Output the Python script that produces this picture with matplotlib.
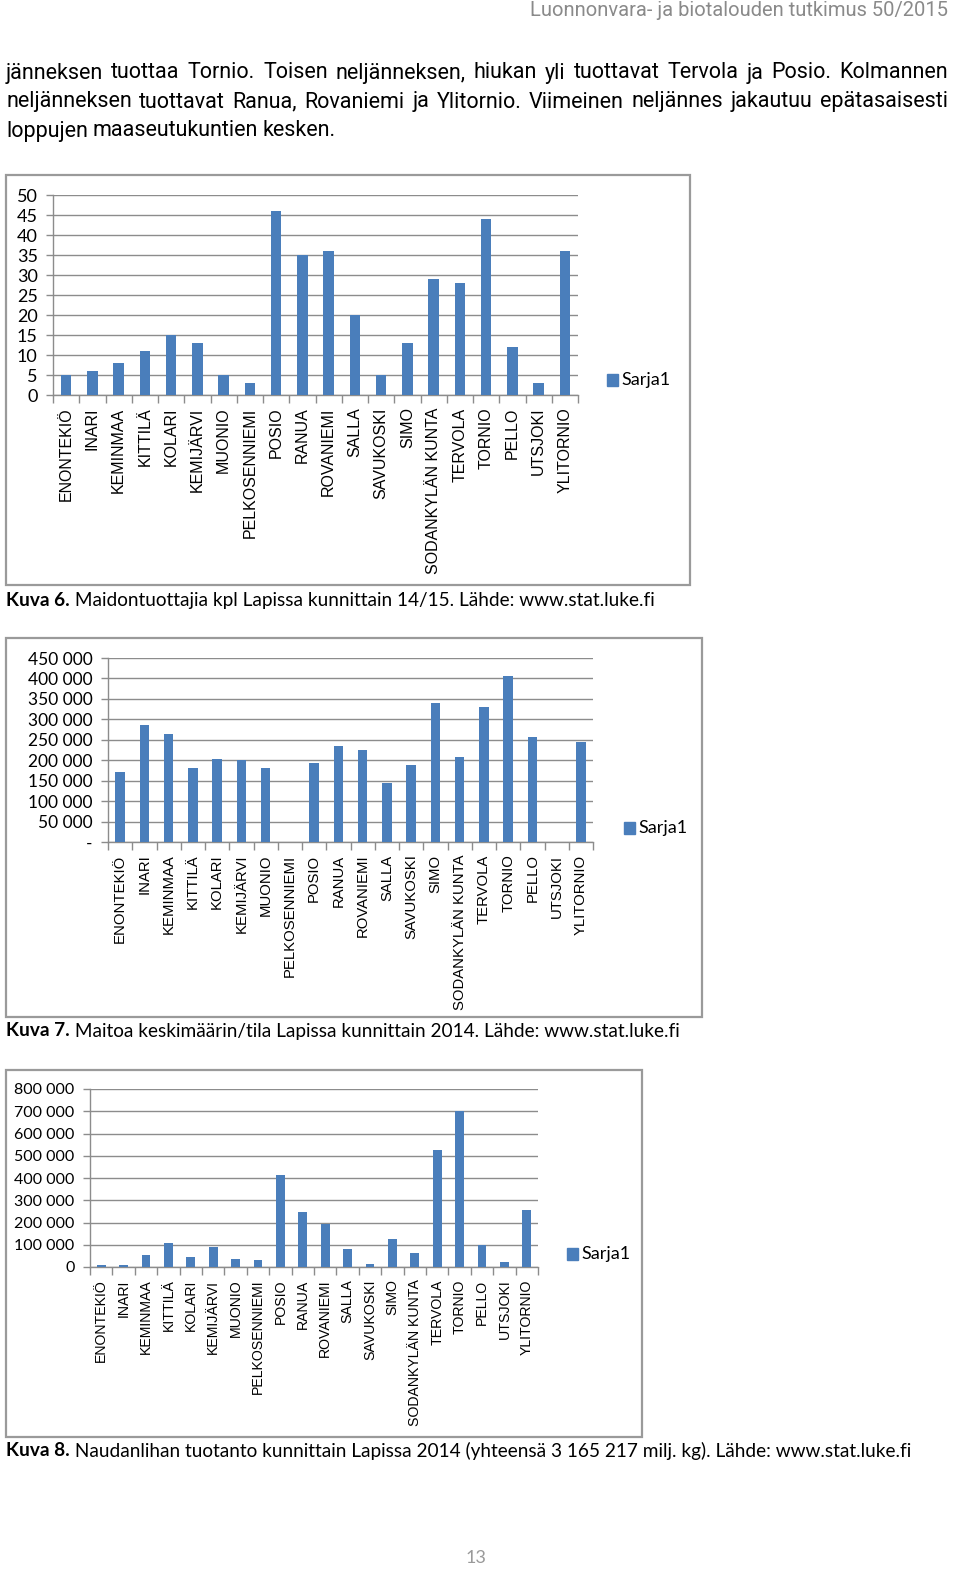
import matplotlib
matplotlib.use('Agg')
import matplotlib.pyplot as plt
from matplotlib.patches import Rectangle
import numpy as np

W, H = 960, 1587

# Municipalities (same order in all three charts)
kunnat = ['ENONTEKIÖ', 'INARI', 'KEMINMAA', 'KITTILÄ', 'KOLARI', 'KEMIJÄRVI',
          'MUONIO', 'PELKOSENNIEMI', 'POSIO', 'RANUA', 'ROVANIEMI', 'SALLA',
          'SAVUKOSKI', 'SIMO', 'SODANKYLÄN KUNTA', 'TERVOLA', 'TORNIO', 'PELLO',
          'UTSJOKI', 'YLITORNIO']

# Kuva 6: maidontuottajia kpl
tuottajat = [5, 6, 8, 11, 15, 13, 5, 3, 46, 35, 36, 20, 5, 13, 29, 28, 44, 12, 3, 36]

# Kuva 7: maitoa keskimäärin / tila
maito_tila = [170000, 285000, 265000, 180000, 203000, 200000, 182000, 0, 193000,
              234000, 224000, 145000, 189000, 341000, 209000, 331000, 406000,
              257000, 0, 245000]

# Kuva 8: naudanlihan tuotanto
naudanliha = [10000, 10000, 55000, 110000, 45000, 90000, 38000, 30000, 415000,
              245000, 192000, 82000, 15000, 125000, 65000, 525000, 700000,
              100000, 22000, 258000]

header = 'Luonnonvara- ja biotalouden tutkimus 50/2015'
body_lines = [
    'jänneksen tuottaa Tornio. Toisen neljänneksen, hiukan yli tuottavat Tervola ja Posio. Kolmannen',
    'neljänneksen tuottavat Ranua, Rovaniemi ja Ylitornio. Viimeinen neljännes jakautuu epätasaisesti',
    'loppujen maaseutukuntien kesken.',
]
captions = [
    ('Kuva 6.', ' Maidontuottajia kpl Lapissa kunnittain 14/15. Lähde: www.stat.luke.fi'),
    ('Kuva 7.', ' Maitoa keskimäärin/tila Lapissa kunnittain 2014. Lähde: www.stat.luke.fi'),
    ('Kuva 8.', ' Naudanlihan tuotanto kunnittain Lapissa 2014 (yhteensä 3 165 217 milj. kg). Lähde: www.stat.luke.fi'),
]

BAR = '#4a7ebb'
GRID = '#8c8c8c'
NARROW = ['Liberation Sans Narrow', 'Roboto', 'DejaVu Sans']
CAP = ['Lato', 'DejaVu Sans']

fig = plt.figure(figsize=(W / 100, H / 100), dpi=100)


def fx(x):
    return x / W


def fy(y):
    return 1 - y / H


def rect(x0, y0, x1, y1):
    return [x0 / W, 1 - y1 / H, (x1 - x0) / W, (y1 - y0) / H]


def thousands(v):
    return f'{int(v):,}'.replace(',', ' ')


def draw_chart(box, plot, values, top, step, zero_label, label_size, tick_size, legend_xy):
    # outer chart frame
    fig.patches.append(Rectangle((fx(box[0]), fy(box[3])), (box[2] - box[0]) / W,
                                 (box[3] - box[1]) / H, transform=fig.transFigure,
                                 fill=False, edgecolor='#9a9a9a', linewidth=1.6))
    ax = fig.add_axes(rect(*plot))
    x = np.arange(len(kunnat))
    ax.bar(x, values, width=0.4, color=BAR, zorder=3)
    ax.set_xlim(-0.5, len(kunnat) - 0.5)
    ax.set_ylim(0, top)
    ticks = np.arange(0, top + step / 2, step)
    ax.set_yticks(ticks)
    labels = [zero_label if t == 0 else (thousands(t) if top > 1000 else str(int(t))) for t in ticks]
    ax.set_yticklabels(labels, fontsize=tick_size, family=CAP)
    ax.set_xticks(x)
    ax.set_xticklabels(kunnat, rotation=90, fontsize=label_size, family='Liberation Sans')
    ax.set_xticks(np.arange(-0.5, len(kunnat)), minor=True)
    ax.tick_params(axis='x', which='major', length=0, pad=9)
    ax.tick_params(axis='x', which='minor', length=6, color=GRID, width=1)
    ax.tick_params(axis='y', length=5, color=GRID, width=1, pad=6)
    ax.grid(axis='y', color=GRID, linewidth=1, zorder=0)
    for s in ['top', 'right']:
        ax.spines[s].set_visible(False)
    for s in ['left', 'bottom']:
        ax.spines[s].set_color(GRID)
        ax.spines[s].set_linewidth(1)
    # legend
    lx, ly = legend_xy
    fig.patches.append(Rectangle((fx(lx), fy(ly + 6)), 11 / W, 12 / H,
                                 transform=fig.transFigure, color=BAR))
    fig.text(fx(lx + 14), fy(ly), 'Sarja1', fontsize=13, family=CAP, va='center', ha='left')
    return ax


draw_chart((6, 175, 690, 585), (53, 195, 578, 395), tuottajat, 50, 5, '0', 11.5, 13, (607, 380))
draw_chart((6, 638, 702, 1017), (108, 658, 593, 842), maito_tila, 450000, 50000, '-', 10.7, 12.5, (624, 828))
draw_chart((6, 1070, 642, 1437), (90, 1089, 538, 1267), naudanliha, 800000, 100000, '0', 10.2, 11.5, (567, 1254))

# header and page number
fig.text(fx(948), fy(11), header, fontsize=14.5, color='#8a8a8a', family=NARROW, ha='right', va='center')
fig.text(fx(476), fy(1558), '13', fontsize=13, color='#9a9a9a', family=CAP, ha='center', va='center')

# body text, first two lines justified
renderer = fig.canvas.get_renderer()
for i, line in enumerate(body_lines):
    y = fy(73 + i * 29)
    words = line.split()
    arts = [fig.text(0, y, w, fontsize=15.5, family=NARROW, va='center', ha='left') for w in words]
    widths = [a.get_window_extent(renderer).width for a in arts]
    if i < 2:
        gap = (948 - 6 - sum(widths)) / (len(words) - 1)
    else:
        gap = arts[0].get_fontsize() * 0.3
    xp = 6
    for a, w in zip(arts, widths):
        a.set_x(fx(xp))
        xp += w + gap

# captions
for (bold, rest), yc in zip(captions, [600, 1031, 1451]):
    t = fig.text(fx(6), fy(yc), bold, fontsize=13.7, family=CAP, weight='bold', va='center')
    w = t.get_window_extent(renderer).width
    fig.text(fx(6 + w), fy(yc), rest, fontsize=13.7, family=CAP, va='center')

fig.savefig('out.png', dpi=100)
